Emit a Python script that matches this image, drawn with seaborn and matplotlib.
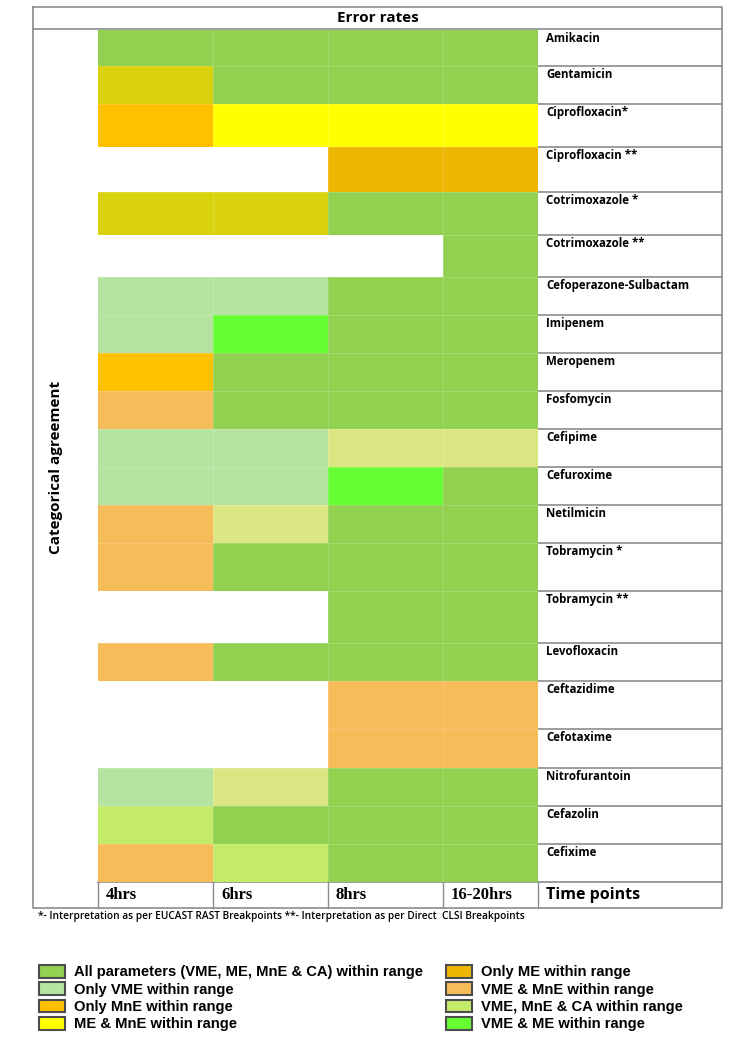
import numpy as np
import pandas as pd
import matplotlib
matplotlib.use("Agg")
import matplotlib.pyplot as plt
from matplotlib.colors import ListedColormap
from matplotlib.patches import Patch
import seaborn as sns

# ---------------- data ----------------
drugs = ["Amikacin", "Gentamicin", "Ciprofloxacin*", "Ciprofloxacin **",
         "Cotrimoxazole *", "Cotrimoxazole **", "Cefoperazone-Sulbactam",
         "Imipenem", "Meropenem", "Fosfomycin", "Cefipime", "Cefuroxime",
         "Netilmicin", "Tobramycin *", "Tobramycin **", "Levofloxacin",
         "Ceftazidime", "Cefotaxime", "Nitrofurantoin", "Cefazolin", "Cefixime"]
time_points = ["4hrs", "6hrs", "8hrs", "16-20hrs"]

# category codes
ALL, VME, MNE, MEMNE, ME, VMEMNE, VMCA, VMEME, OLIVE, PALE = range(10)
N = np.nan
status = [
    [ALL, ALL, ALL, ALL],
    [OLIVE, ALL, ALL, ALL],
    [MNE, MEMNE, MEMNE, MEMNE],
    [N, N, ME, ME],
    [OLIVE, OLIVE, ALL, ALL],
    [N, N, N, ALL],
    [VME, VME, ALL, ALL],
    [VME, VMEME, ALL, ALL],
    [MNE, ALL, ALL, ALL],
    [VMEMNE, ALL, ALL, ALL],
    [VME, VME, PALE, PALE],
    [VME, VME, VMEME, ALL],
    [VMEMNE, PALE, ALL, ALL],
    [VMEMNE, ALL, ALL, ALL],
    [N, N, ALL, ALL],
    [VMEMNE, ALL, ALL, ALL],
    [N, N, VMEMNE, VMEMNE],
    [N, N, VMEMNE, VMEMNE],
    [VME, PALE, ALL, ALL],
    [VMCA, ALL, ALL, ALL],
    [VMEMNE, VMCA, ALL, ALL],
]
category_colors = ["#92D050", "#B4E4A0", "#FFC000", "#FFFF00", "#EDB600",
                   "#F6BC5A", "#C4EA6A", "#66FF33", "#DAD20C", "#DCE683"]
legend_left = ["All parameters (VME, ME, MnE & CA) within range",
               "Only VME within range", "Only MnE within range",
               "ME & MnE within range"]
legend_left_codes = [ALL, VME, MNE, MEMNE]
legend_right = ["Only ME within range", "VME & MnE within range",
                "VME, MnE & CA within range", "VME & ME within range"]
legend_right_codes = [ME, VMEMNE, VMCA, VMEME]

# layout: row heights and column widths in pixels
row_px = [36, 38, 43, 45, 43, 42, 38, 38, 38, 38, 38, 38, 38, 48, 52, 38,
          48, 39, 38, 38, 38]
col_px = [115, 115, 115, 95]

# ---------------- figure ----------------
W, H = 750, 1048
fig = plt.figure(figsize=(W / 100, H / 100), dpi=100)
fig.patch.set_facecolor("white")

def fx(x):
    return x / W

def fy(y):
    return 1 - y / H

ov = fig.add_axes([0, 0, 1, 1])
ov.set_xlim(0, W)
ov.set_ylim(H, 0)
ov.axis("off")

gx0, gx1, gy0, gy1 = 98, 538, 30, 882
ax = fig.add_axes([fx(gx0), fy(gy1), fx(gx1 - gx0), (gy1 - gy0) / H])
df = pd.DataFrame(status, index=drugs, columns=time_points)
vals = np.repeat(df.values, row_px, axis=0)
vals = np.repeat(vals, [c // 5 for c in col_px], axis=1)
expanded = pd.DataFrame(vals)
cmap = ListedColormap(category_colors)
sns.heatmap(expanded, ax=ax, cmap=cmap, vmin=-0.5, vmax=9.5, cbar=False,
            mask=expanded.isna(), linewidths=0, xticklabels=False,
            yticklabels=False)
ax.set_facecolor("white")
ax.set_xlabel("")
ax.set_ylabel("")
for s in ax.spines.values():
    s.set_visible(False)
bounds = np.cumsum([0] + row_px)
cbounds = np.cumsum([0] + [c // 5 for c in col_px])
for b in bounds[1:-1]:
    ax.axhline(b, color="white", lw=0.6, alpha=0.2)
for c in cbounds[1:-1]:
    ax.axvline(c, color="white", lw=0.6, alpha=0.2)

# ---------------- table lines ----------------
line_c = "#8c8c8c"
L, R, T, B = 33, 722, 7, 908
ov.plot([L, R, R, L, L], [T, T, B, B, T], color=line_c, lw=1.2)
ov.plot([L, R], [29, 29], color=line_c, lw=1.2)
ybounds = gy0 + bounds
for yb in ybounds[1:-1]:
    ov.plot([gx1, R], [yb, yb], color=line_c, lw=1.2)
ov.plot([gx0, R], [gy1, gy1], color=line_c, lw=1.2)
col_x = [98, 213, 328, 443, 538]
for xc in col_x:
    ov.plot([xc, xc], [gy1, B], color=line_c, lw=1.0)

# ---------------- text ----------------
calibri = ["Open Sans", "DejaVu Sans"]
ov.text((L + R) / 2, 18, "Error rates", ha="center", va="center",
        fontsize=11, fontweight="bold", family=calibri)
for name, yt in zip(drugs, ybounds[:-1]):
    ov.text(546, yt + 2, name, ha="left", va="top", fontsize=8.3,
            fontweight="bold", family=calibri)
ov.text(56, 467, "Categorical agreement", rotation=90, ha="center",
        va="center", fontsize=11, fontweight="bold", family=calibri)
for tp, xc in zip(time_points, col_x):
    ov.text(xc + 8, 895, tp, ha="left", va="center", fontsize=12,
            fontweight="bold", family=["Liberation Serif", "DejaVu Serif"])
ov.text(546, 895, "Time points", ha="left", va="center", fontsize=11.5,
        fontweight="bold", family=calibri)
ov.text(38, 917, "*- Interpretation as per EUCAST RAST Breakpoints **- "
        "Interpretation as per Direct  CLSI Breakpoints", ha="left",
        va="center", fontsize=7.3, fontweight="semibold", family=calibri)

# ---------------- legends ----------------
leg_font = {"family": ["Liberation Sans", "DejaVu Sans"],
            "weight": "bold", "size": 10.6}

def make_legend(labels, codes, x):
    handles = [Patch(facecolor=category_colors[c], edgecolor="#4d4d4d",
                     linewidth=1.5) for c in codes]
    lg = fig.legend(handles, labels, loc="upper left",
                    bbox_to_anchor=(fx(x), fy(965)), frameon=False,
                    prop=leg_font, handlelength=1.75, handleheight=0.95,
                    handletextpad=0.6, labelspacing=0.2, borderpad=0,
                    borderaxespad=0)
    return lg

make_legend(legend_left, legend_left_codes, 39)
make_legend(legend_right, legend_right_codes, 446)

fig.savefig("out.png", dpi=100, facecolor="white")
